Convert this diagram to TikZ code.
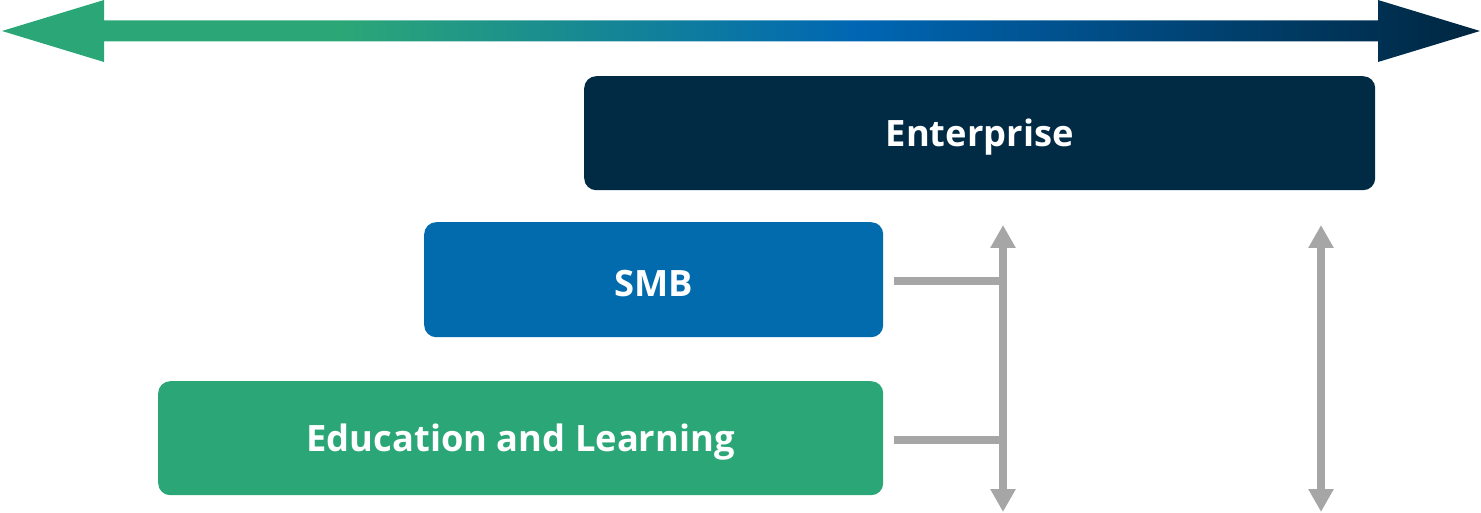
\documentclass[tikz,border=0pt]{standalone}
\usepackage{fontspec}
\setmainfont{Open Sans}
\usetikzlibrary{arrows.meta}
\definecolor{cgreen}{HTML}{2BA777}
\definecolor{cblue}{HTML}{0066B3}
\definecolor{cnavy}{HTML}{00263F}
\definecolor{entc}{HTML}{012B45}
\definecolor{smbc}{HTML}{016BAD}
\definecolor{grayc}{HTML}{A6A6A6}
\pgfdeclarehorizontalshading{topgrad}{100bp}{color(0bp)=(cgreen); color(36.5bp)=(cgreen); color(54bp)=(cblue); color(75bp)=(cnavy); color(100bp)=(cnavy)}
\tikzset{
  box/.style={rounded corners=12pt, inner sep=0pt, anchor=north west},
  boxtext/.style={text=white, font=\fontsize{36.3}{42}\selectfont\bfseries, yshift=-4pt},
  graydbl/.style={draw=grayc, line width=7.5pt, {Triangle[length=23pt,width=24pt]}-{Triangle[length=23pt,width=24pt]}},
  grayline/.style={draw=grayc, line width=7.5pt},
}
\begin{document}
\begin{tikzpicture}[x=1pt,y=-1pt]
\useasboundingbox (0,0) rectangle (1481,513);
% top gradient double arrow
\shade[shading=topgrad] (2,31) -- (104,0) -- (104,20.5) -- (1378,20.5) -- (1378,0) -- (1480,31) -- (1378,62) -- (1378,41.5) -- (104,41.5) -- (104,62) -- cycle;
% boxes
\node[box, fill=entc, minimum width=791pt, minimum height=114pt] (ent) at (584,76) {};
\node[boxtext] (entt) at (ent.center) {Enterprise};
\node[box, fill=smbc, minimum width=459pt, minimum height=115pt] (smb) at (424,222) {};
\node[boxtext] (smbt) at (smb.center) {SMB};
\node[box, fill=cgreen, minimum width=725pt, minimum height=114pt] (edu) at (158,381) {};
\node[boxtext] (edut) at (edu.center) {Education and Learning};
% gray connectors
\coordinate (v1t) at (1003,225);
\coordinate (v1b) at (1003,512);
\coordinate (v2t) at (1321,225);
\coordinate (v2b) at (1321,512);
\coordinate (j1) at (1003,281);
\coordinate (j2) at (1003,440);
\coordinate (s1) at ([xshift=11pt]smb.east |- j1);
\coordinate (s2) at ([xshift=11pt]edu.east |- j2);
\draw[graydbl] (v1b) -- (v1t);
\draw[graydbl] (v2b) -- (v2t);
\draw[grayline] (s1) -- ([xshift=3.75pt]j1);
\draw[grayline] (s2) -- ([xshift=3.75pt]j2);
\end{tikzpicture}
\end{document}
